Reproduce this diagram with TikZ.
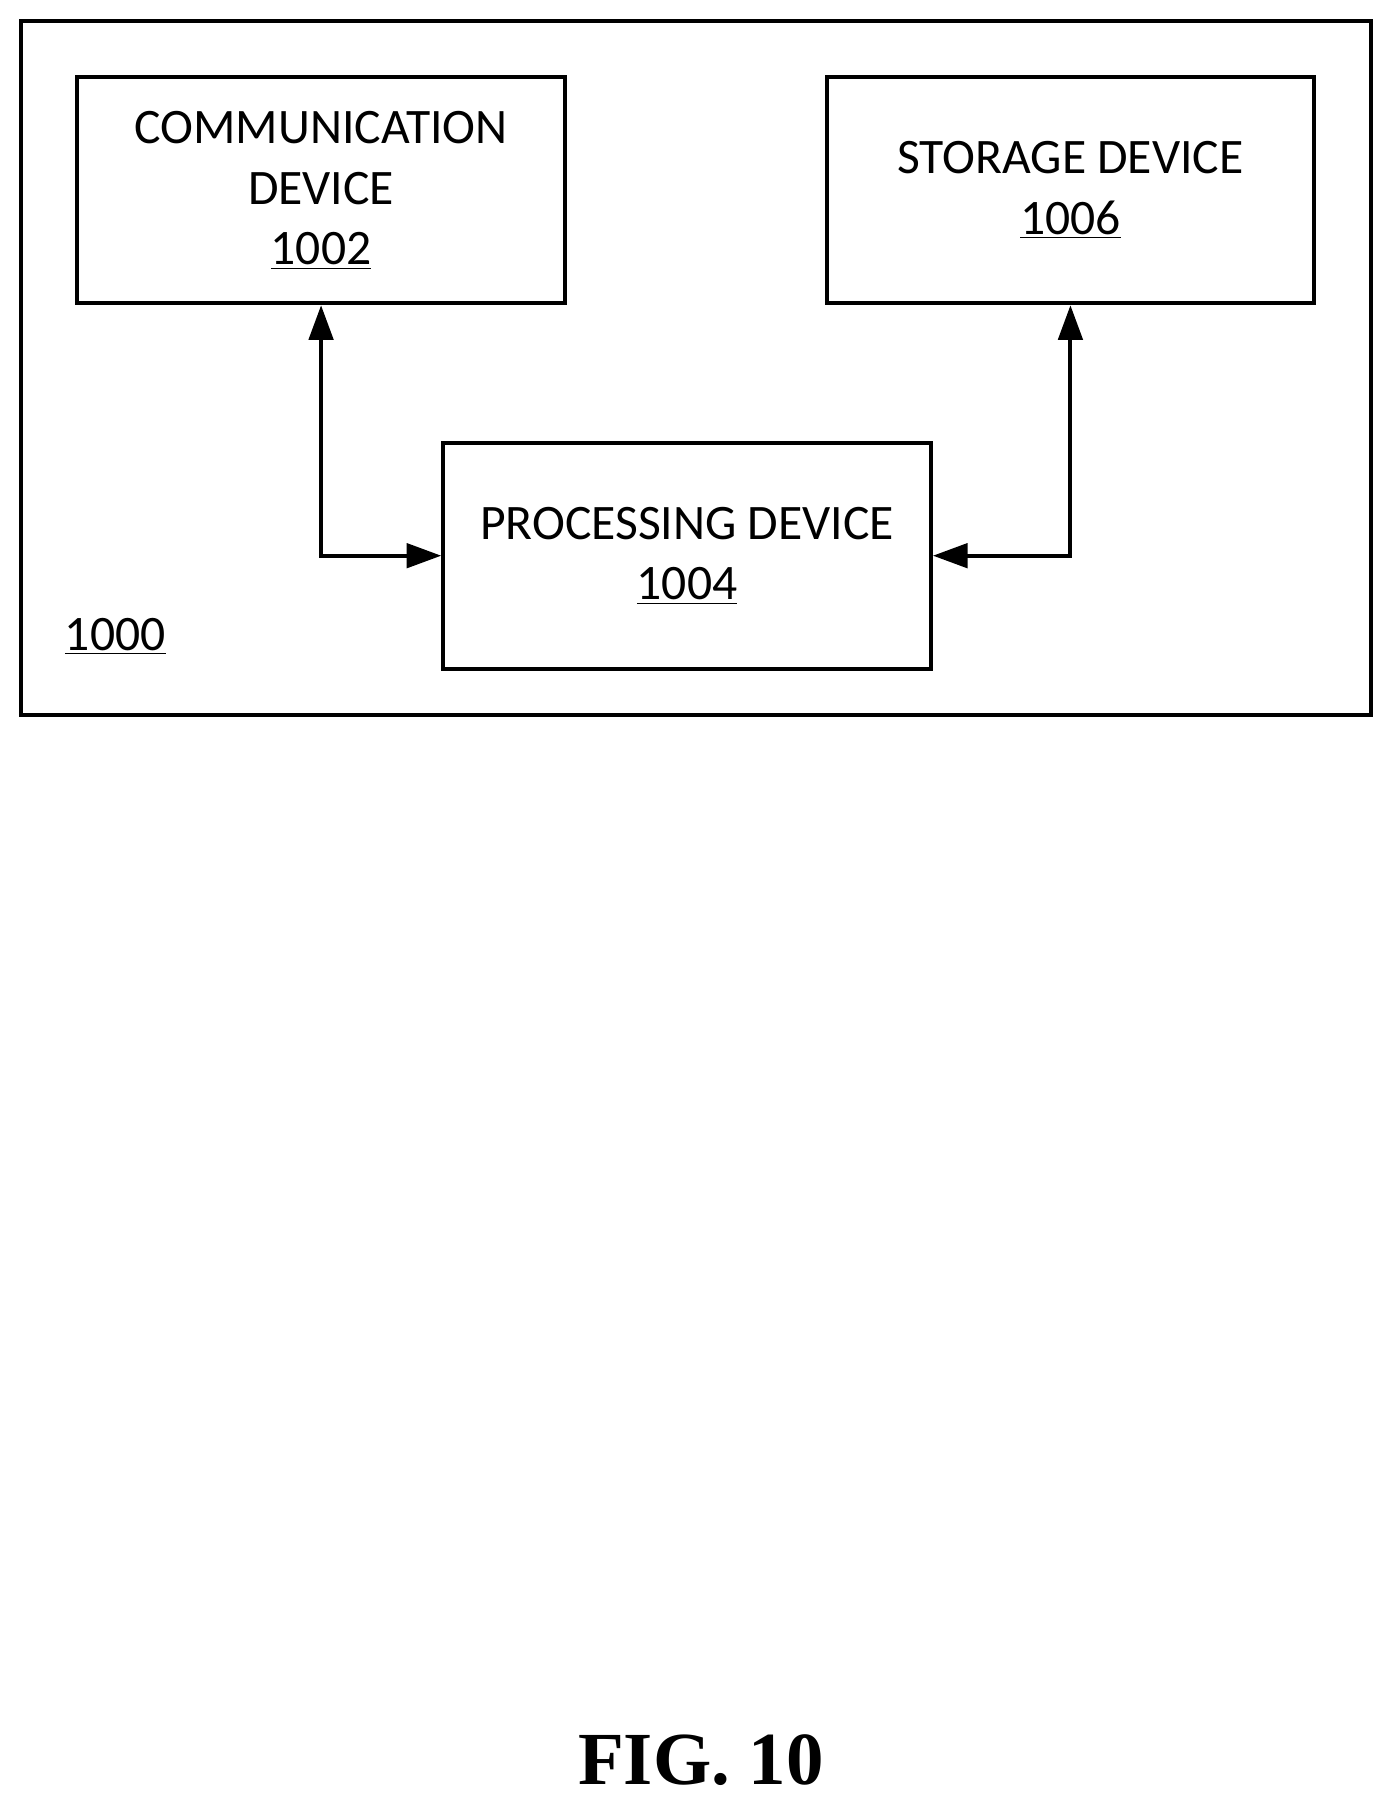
\documentclass[tikz,border=0pt]{standalone}
\usepackage{fontspec}
\setmainfont{Carlito}
\usetikzlibrary{arrows.meta}
\begin{document}
\begin{tikzpicture}[x=0.02cm,y=-0.02cm,line width=2pt,
    >={Triangle[length=0.6cm,width=0.42cm]}]
    \tikzstyle{device}=[draw,rectangle,minimum width=8.46cm,minimum height=3.92cm,
        align=center,font=\fontsize{24.5}{30}\selectfont,inner sep=0pt]

    \useasboundingbox (0,0) rectangle (1210,1570);

    % Outer box
    \draw (18,18) rectangle (1189,620);
    \node[font=\fontsize{24.5}{30}\selectfont] (label) at (100,552) {\underline{1000}};

    % Devices
    \node[device] (comm) at (278.5,165) {COMMUNICATION\\DEVICE\\\underline{1002}};
    \node[device] (store) at (928.5,165) {STORAGE DEVICE\\\underline{1006}};
    \node[device] (proc) at (596,482) {PROCESSING DEVICE\\\underline{1004}};

    % Connectors
    \draw[<->] (comm.south) |- (proc.west);
    \draw[<->] (store.south) |- (proc.east);

    % Caption
    \node[font=\fontsize{37}{42}\selectfont\bfseries] (fig) at (608,1527)
        {\fontspec{Liberation Serif}FIG. 10};
\end{tikzpicture}
\end{document}
